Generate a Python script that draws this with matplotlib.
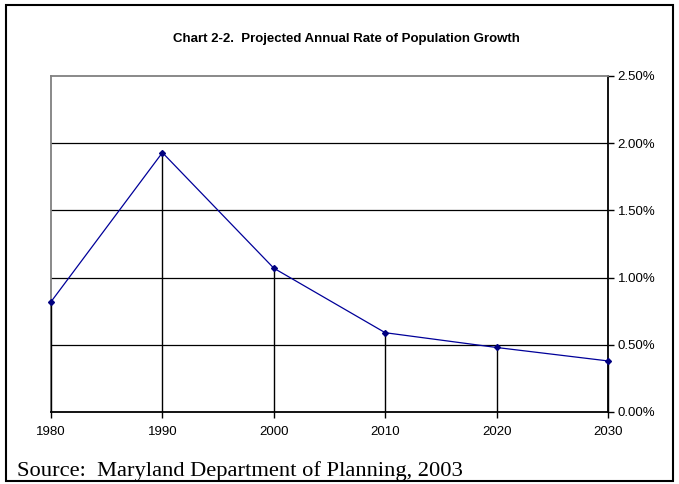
import matplotlib
matplotlib.use("Agg")
import matplotlib.pyplot as plt
from matplotlib.ticker import FuncFormatter
from matplotlib.patches import Rectangle

# Datos
anios = [1980, 1990, 2000, 2010, 2020, 2030]
tasa = [0.82, 1.93, 1.07, 0.59, 0.48, 0.38]
y_ticks = [0.0, 0.5, 1.0, 1.5, 2.0, 2.5]

titulo = "Chart 2-2.  Projected Annual Rate of Population Growth"
fuente = "Source:  Maryland Department of Planning, 2003"

W, H = 679, 484
fig = plt.figure(figsize=(W / 100, H / 100), dpi=100)
plt.rcParams['font.family'] = ['Liberation Sans', 'DejaVu Sans']

# Marco exterior
fig.patches.append(Rectangle((6 / W, 3 / H), 667 / W, 476 / H, transform=fig.transFigure,
                             fill=False, edgecolor='black', linewidth=1.5))

ax = fig.add_axes([51 / W, 1 - 412 / H, 557 / W, 336 / H])
ax.set_xlim(anios[0], anios[-1])
ax.set_ylim(0, 2.5)

# Lineas de cuadricula horizontales
for v in y_ticks[1:-1]:
    ax.axhline(v, color='black', linewidth=0.9, zorder=1)

# Lineas de caida (drop lines), encima del eje izquierdo gris
ax.vlines(anios, 0, tasa, color='black', linewidth=1.0, zorder=3, clip_on=False)

ax.plot(anios, tasa, color='#000099', linewidth=0.9, marker='D', markersize=3,
        markerfacecolor='#000080', markeredgecolor='#000080', zorder=4, clip_on=False)

ax.yaxis.tick_right()
ax.set_yticks(y_ticks)
ax.yaxis.set_major_formatter(FuncFormatter(lambda v, p: "%.2f%%" % v))
ax.set_xticks(anios)
ax.tick_params(axis='both', labelsize=9.5, length=4, width=1, color='black', direction='out')
ax.tick_params(axis='y', pad=3)
ax.tick_params(axis='x', pad=6)

ax.spines['top'].set_color('#808080')
ax.spines['left'].set_color('#808080')
ax.spines['right'].set_color('black')
ax.spines['bottom'].set_color('black')
for s in ax.spines.values():
    s.set_linewidth(1.3)

fig.text(346 / W, 1 - 39 / H, titulo, ha='center', va='center', fontsize=9.5, fontweight='bold')
fig.text(17 / W, 1 - 476 / H, fuente, ha='left', va='baseline', fontsize=16.2,
         family=['Liberation Serif', 'DejaVu Serif'])

fig.savefig("out.png", dpi=100)
